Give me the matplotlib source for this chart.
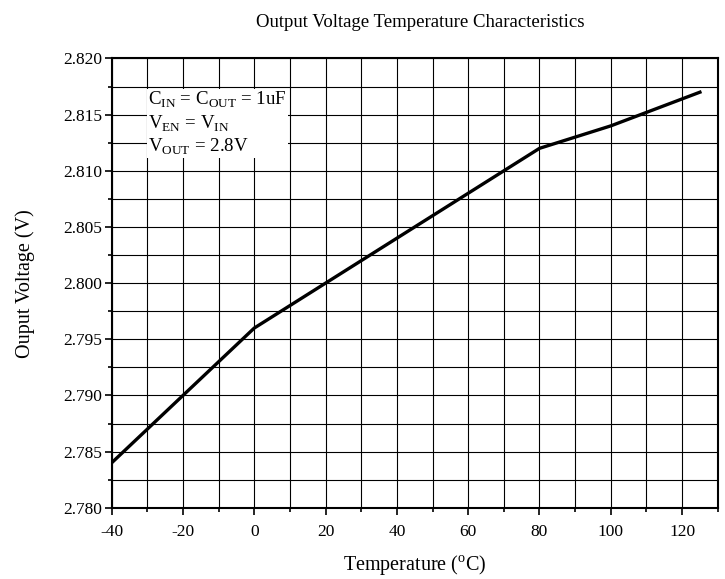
import numpy as np
import matplotlib.pyplot as plt
from matplotlib.ticker import MultipleLocator

plt.rcParams['font.family'] = 'Liberation Serif'
plt.rcParams['mathtext.fontset'] = 'custom'
plt.rcParams['mathtext.rm'] = 'Liberation Serif'
plt.rcParams['axes.unicode_minus'] = False

# data
temperature = [-40, 0, 80, 100, 125]
vout = [2.784, 2.796, 2.812, 2.814, 2.817]

fig = plt.figure(figsize=(7.25, 5.79), dpi=100)
ax = fig.add_axes([0.154, 0.123, 0.836, 0.776])

ax.plot(temperature, vout, color='black', lw=2.4, zorder=3)

ax.set_xlim(-40, 130)
ax.set_ylim(2.780, 2.820)
ax.xaxis.set_minor_locator(MultipleLocator(10))
ax.yaxis.set_major_locator(MultipleLocator(0.005))
ax.yaxis.set_minor_locator(MultipleLocator(0.0025))
ax.set_xticks([-40, -20, 0, 20, 40, 60, 80, 100, 120])
ax.yaxis.set_major_formatter(plt.FuncFormatter(lambda v, p: '%.3f' % v))

ax.grid(which='both', color='black', lw=0.8)
ax.set_axisbelow(True)
ax.tick_params(which='major', direction='out', length=5, width=1.2, labelsize=12.5)
ax.tick_params(axis='x', which='major', pad=7)
ax.tick_params(axis='y', which='major', pad=2)
ax.tick_params(which='minor', direction='out', length=3, width=1.2)
for s in ax.spines.values():
    s.set_linewidth(1.5)

ax.set_xlabel('Temperature ($^{\\mathrm{o}}$C)', fontsize=14.5, labelpad=9)
ax.set_ylabel('Ouput Voltage (V)', fontsize=14.5, labelpad=20)
fig.text(0.579, 0.961, 'Output Voltage Temperature Characteristics',
         ha='center', va='center', fontsize=13.5)

note = ('C$_{\\mathrm{IN}}$ = C$_{\\mathrm{OUT}}$ = 1uF\n'
        'V$_{\\mathrm{EN}}$ = V$_{\\mathrm{IN}}$\n'
        'V$_{\\mathrm{OUT}}$ = 2.8V')
ax.text(-29.8, 2.8172, note, fontsize=13.6, va='top', ha='left', linespacing=1.2,
        bbox=dict(facecolor='white', edgecolor='none', pad=1.0), zorder=4)

fig.savefig('out.png', dpi=100)
